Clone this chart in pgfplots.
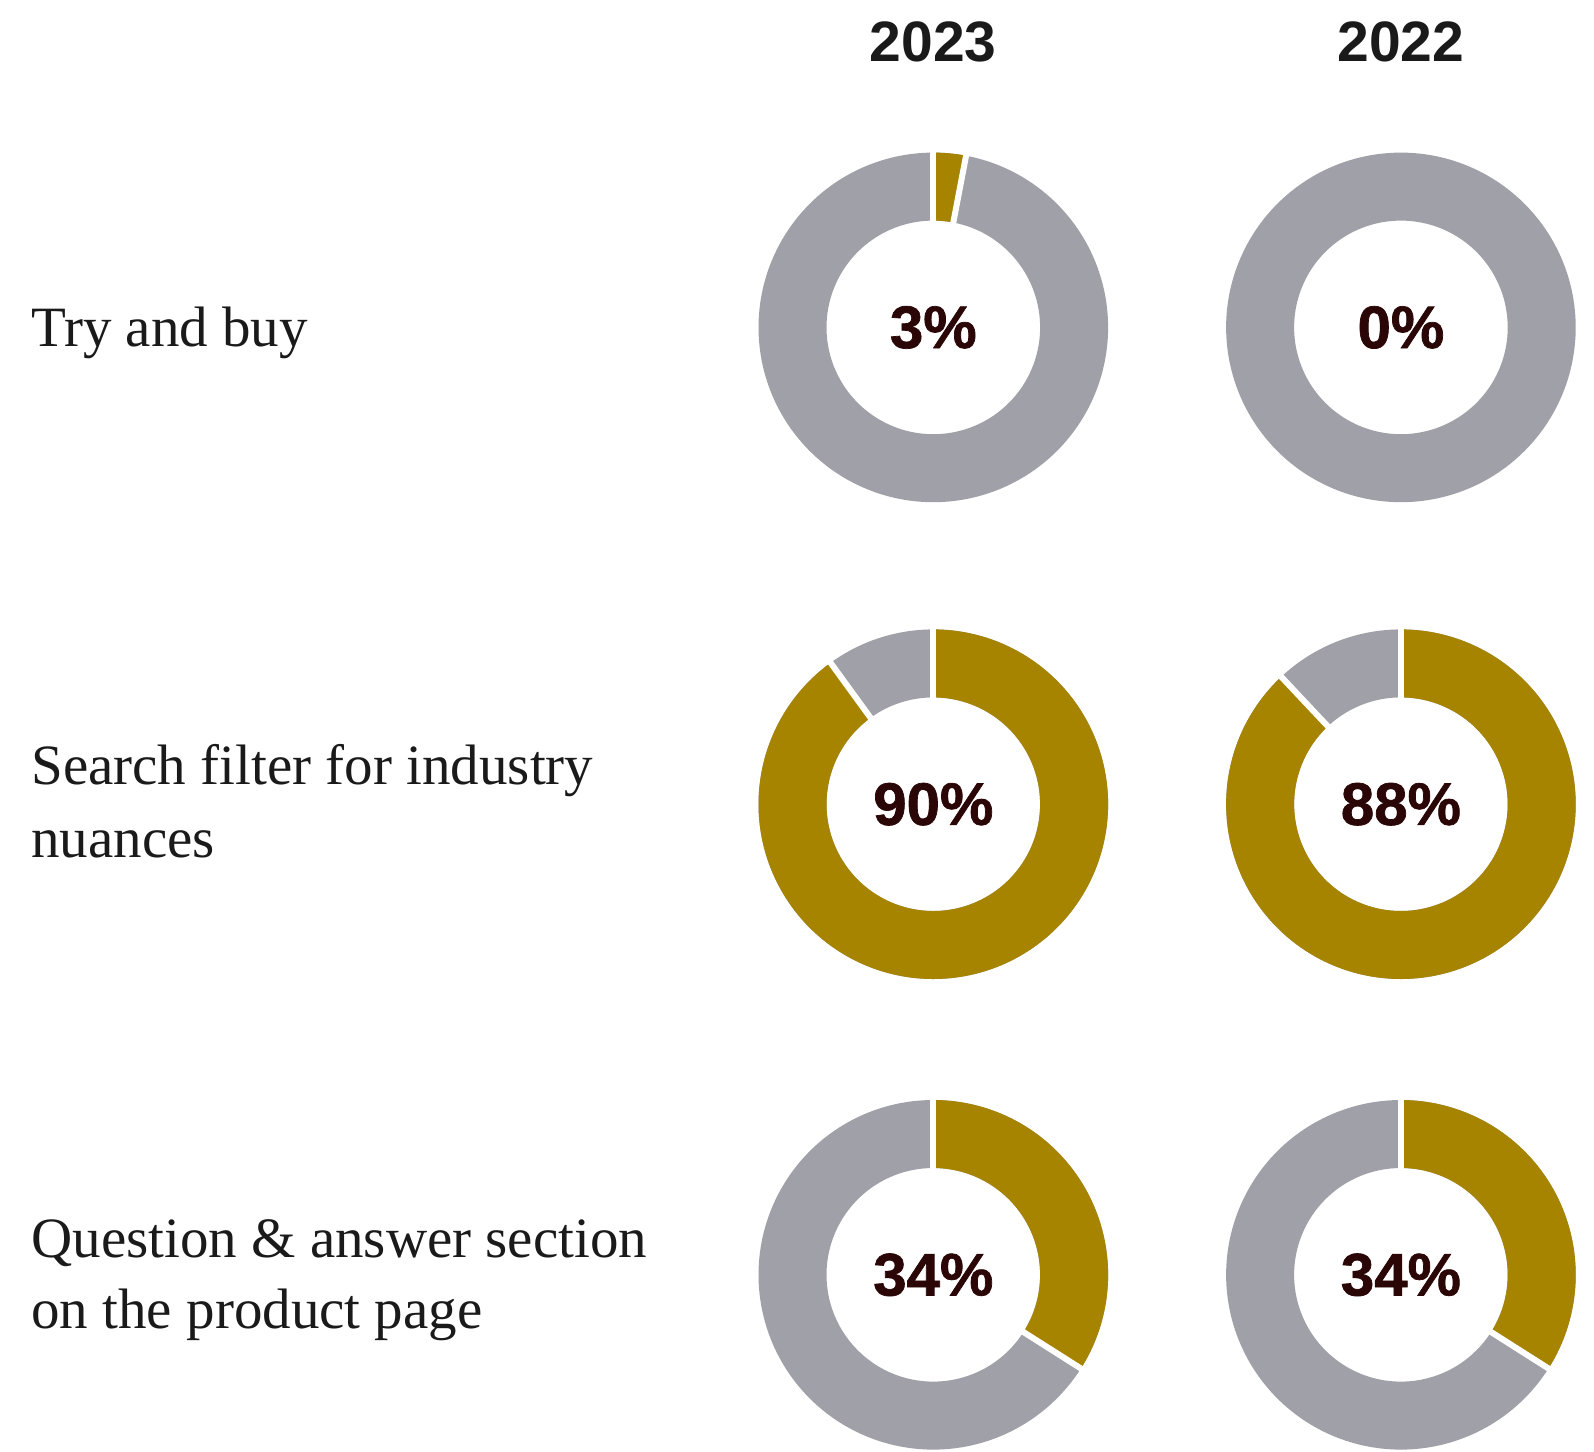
\documentclass[border=0pt]{standalone}
\usepackage{pgfplots}
\pgfplotsset{compat=1.18}
\usepackage{fontspec}
\setmainfont{Liberation Serif}
\newfontfamily\numfont{Liberation Sans}
\newfontfamily\pctfont{Liberation Sans}[FakeBold=1.2]

\definecolor{ringgold}{HTML}{A68400}
\definecolor{ringgray}{HTML}{A0A0A8}
\definecolor{inkdark}{HTML}{1A1A1A}
\definecolor{pctdark}{HTML}{2B0606}

% one donut: centre x, centre y (pixels), share in percent
\newcommand{\donut}[3]{%
  \addplot[ringgray, line width=34pt, domain=-6:366, samples=241, variable=\t]
    ({#1+140.8*cos(\t)}, {#2-140.8*sin(\t)});
  \ifdim #3pt>0pt
    \addplot[ringgold, line width=34pt, domain={90-3.6*#3}:90, samples=181, variable=\t]
      ({#1+140.8*cos(\t)}, {#2-140.8*sin(\t)});
    \addplot[white, line width=3pt, domain=100:182, samples=2, variable=\s]
      ({#1+\s*cos(90)}, {#2-\s*sin(90)});
    \addplot[white, line width=3pt, domain=100:182, samples=2, variable=\s]
      ({#1+\s*cos(90-3.6*#3)}, {#2-\s*sin(90-3.6*#3)});
  \fi
  \node[font=\pctfont\bfseries\fontsize{30}{30}\selectfont, text=pctdark, inner sep=0pt]
    at (axis cs:#1,#2) {#3\%};
}

\begin{document}
\begin{tikzpicture}
\begin{axis}[
  hide axis,
  x=0.5pt, y=0.5pt,
  y dir=reverse,
  xmin=0, xmax=1594, ymin=0, ymax=1451,
  clip=false,
]
\addplot[draw=none] coordinates {(0,0) (1594,1451)};

% 2023 column, then 2022 column
\donut{933.3}{327.4}{3}
\donut{1400.9}{327.4}{0}
\donut{933.3}{804.2}{90}
\donut{1400.9}{804.2}{88}
\donut{933.3}{1274.8}{34}
\donut{1400.9}{1274.8}{34}

\node[font=\numfont\bfseries\fontsize{28.5}{30}\selectfont, text=inkdark, anchor=base, inner sep=0pt]
  at (axis cs:933.3,61) {2023};
\node[font=\numfont\bfseries\fontsize{28.5}{30}\selectfont, text=inkdark, anchor=base, inner sep=0pt]
  at (axis cs:1400.9,61) {2022};

\node[font=\fontsize{28.5}{36}\selectfont, text=inkdark, anchor=base west, inner sep=0pt]
  at (axis cs:31,346) {Try and buy};
\node[font=\fontsize{28.5}{36}\selectfont, text=inkdark, anchor=base west, inner sep=0pt]
  at (axis cs:31,784) {Search filter for industry};
\node[font=\fontsize{28.5}{36}\selectfont, text=inkdark, anchor=base west, inner sep=0pt]
  at (axis cs:31,857) {nuances};
\node[font=\fontsize{28.5}{36}\selectfont, text=inkdark, anchor=base west, inner sep=0pt]
  at (axis cs:31,1257) {Question \& answer section};
\node[font=\fontsize{28.5}{36}\selectfont, text=inkdark, anchor=base west, inner sep=0pt]
  at (axis cs:31,1328) {on the product page};
\end{axis}
\end{tikzpicture}
\end{document}
